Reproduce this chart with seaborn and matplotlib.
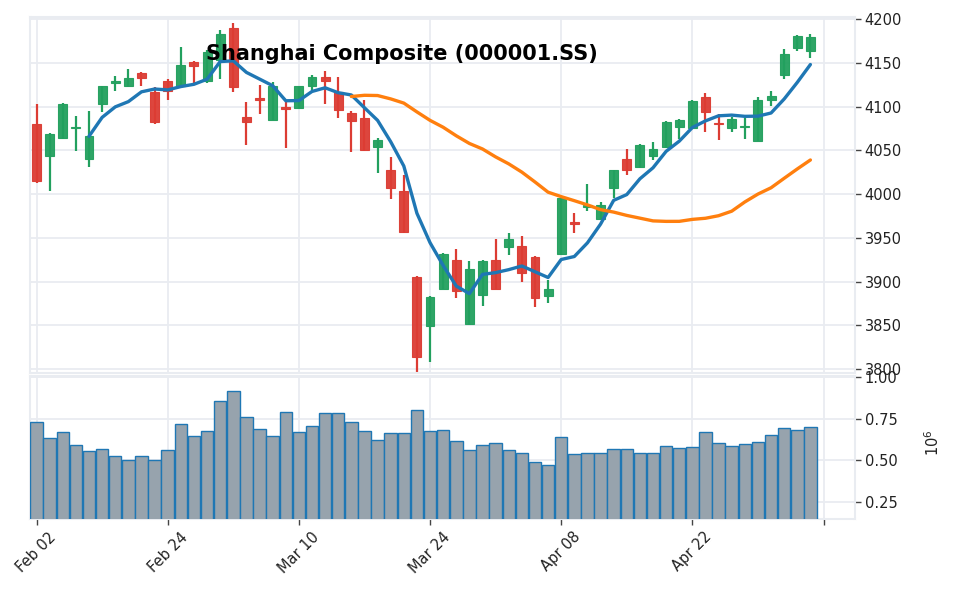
import numpy as np
import pandas as pd
import matplotlib
matplotlib.use('Agg')
import matplotlib.pyplot as plt
import seaborn as sns

# daily OHLC (index = trading day)
opens = [4080, 4044, 4064, 4075, 4040, 4103, 4127, 4124, 4138, 4117,
         4129, 4123, 4151, 4129, 4153, 4190, 4088, 4110, 4085, 4100,
         4098, 4124, 4134, 4117, 4093, 4087, 4054, 4028, 4004, 3905,
         3849, 3892, 3925, 3851, 3885, 3925, 3940, 3941, 3928, 3884,
         3931, 3968, 3985, 3972, 4007, 4040, 4031, 4043, 4054, 4077,
         4075, 4111, 4081, 4075, 4077, 4061, 4107, 4136, 4167, 4163]
highs = [4103, 4070, 4104, 4089, 4095, 4124, 4135, 4143, 4140, 4122,
         4131, 4168, 4152, 4165, 4188, 4196, 4105, 4125, 4128, 4105,
         4124, 4136, 4141, 4134, 4095, 4108, 4064, 4042, 4022, 3906,
         3883, 3933, 3937, 3924, 3925, 3949, 3956, 3952, 3929, 3902,
         3996, 3978, 4011, 3991, 4028, 4051, 4057, 4059, 4083, 4086,
         4107, 4115, 4092, 4088, 4087, 4111, 4118, 4166, 4182, 4183]
lows = [4013, 4003, 4063, 4049, 4031, 4094, 4118, 4122, 4124, 4080,
        4107, 4122, 4127, 4127, 4132, 4117, 4056, 4091, 4085, 4053,
        4097, 4119, 4103, 4087, 4048, 4049, 4024, 3994, 3956, 3795,
        3808, 3891, 3881, 3850, 3872, 3891, 3930, 3900, 3871, 3876,
        3930, 3955, 3981, 3971, 3995, 4022, 4030, 4039, 4053, 4063,
        4074, 4071, 4062, 4071, 4063, 4061, 4101, 4131, 4164, 4155]
closes = [4015, 4069, 4103, 4077, 4066, 4123, 4129, 4133, 4133, 4082,
          4118, 4148, 4146, 4162, 4183, 4122, 4082, 4108, 4124, 4097,
          4123, 4134, 4129, 4096, 4084, 4050, 4062, 4007, 3957, 3814,
          3882, 3932, 3889, 3914, 3924, 3892, 3949, 3910, 3881, 3891,
          3995, 3966, 3988, 3988, 4027, 4028, 4056, 4051, 4082, 4085,
          4106, 4094, 4080, 4086, 4078, 4107, 4112, 4160, 4181, 4180]
# volume in millions
volumes = [0.733, 0.637, 0.673, 0.595, 0.558, 0.570, 0.528, 0.504, 0.528, 0.504,
           0.564, 0.721, 0.649, 0.679, 0.860, 0.920, 0.763, 0.691, 0.649, 0.793,
           0.673, 0.709, 0.787, 0.787, 0.733, 0.679, 0.625, 0.667, 0.667, 0.805,
           0.679, 0.685, 0.620, 0.564, 0.595, 0.608, 0.564, 0.546, 0.492, 0.474,
           0.643, 0.540, 0.546, 0.546, 0.570, 0.570, 0.546, 0.546, 0.589, 0.576,
           0.582, 0.673, 0.606, 0.589, 0.600, 0.613, 0.655, 0.695, 0.685, 0.699]

tick_pos = [0, 10, 20, 30, 40, 50, 60]
tick_labels = ['Feb 02', 'Feb 24', 'Mar 10', 'Mar 24', 'Apr 08', 'Apr 22', '']
mav = (5, 25)

df = pd.DataFrame({'Open': opens, 'High': highs, 'Low': lows,
                   'Close': closes, 'Volume': volumes})
df['i'] = np.arange(len(df))
for w in mav:
    df['ma%d' % w] = df['Close'].rolling(w).mean()

sns.set_style('white')
plt.rcParams['font.family'] = ['DejaVu Sans']

grid_c = '#e9ecf1'
up_c = '#22a05e'
down_c = '#dc3c33'

fig = plt.figure(figsize=(9.57, 5.92), dpi=100)
W, H = 957, 592
ax = fig.add_axes([30 / W, (H - 373) / H, 825 / W, 356 / H])
axv = fig.add_axes([30 / W, (H - 519) / H, 825 / W, 143 / H], sharex=ax)

up = df['Close'] >= df['Open']
colors = np.where(up, up_c, down_c)

# wicks
ax.vlines(df['i'], df['Low'], df['High'], colors=colors, linewidth=1.6, zorder=2)
# bodies
body_low = np.minimum(df['Open'], df['Close'])
body_h = np.maximum((df['Close'] - df['Open']).abs(), 0.8)
ax.bar(df['i'], body_h, bottom=body_low, width=0.68, color=colors,
       edgecolor=colors, linewidth=0.8, alpha=0.95, zorder=3)

# moving averages
sns.lineplot(data=df, x='i', y='ma5', ax=ax, color='#1f77b4', linewidth=2.4, zorder=4)
sns.lineplot(data=df, x='i', y='ma25', ax=ax, color='#ff7f0e', linewidth=2.4, zorder=4)

# volume
axv.bar(df['i'], df['Volume'], width=0.95, color='#97a3ad',
        edgecolor='#1f77b4', linewidth=1.0, zorder=3)

ax.set_xlim(-0.5, 62.4)
ax.set_ylim(3795.5, 4202.3)
axv.set_ylim(0.148, 1.008)

for a in (ax, axv):
    a.set_xlabel('')
    a.set_ylabel('')
    a.yaxis.tick_right()
    a.grid(True, color=grid_c, linewidth=1.3, zorder=0)
    a.set_axisbelow(True)
    for s in a.spines.values():
        s.set_color(grid_c)
        s.set_linewidth(1.5)
    a.tick_params(axis='y', which='major', length=4, width=1, color='#444444',
                  labelsize=10.5, labelcolor='#222222', pad=3, right=True, left=False)

ax.set_yticks([3800, 3850, 3900, 3950, 4000, 4050, 4100, 4150, 4200])
ax.set_yticklabels([str(v) for v in [3800, 3850, 3900, 3950, 4000, 4050, 4100, 4150, 4200]])
axv.set_yticks([0.25, 0.50, 0.75, 1.00])
axv.set_yticklabels(['0.25', '0.50', '0.75', '1.00'])

axv.set_xticks(tick_pos)
axv.set_xticklabels(tick_labels, rotation=45, ha='center')
axv.tick_params(axis='x', length=4, width=1, color='#444444', labelsize=10.5,
                labelcolor='#222222', bottom=True)
ax.tick_params(axis='x', bottom=False, labelbottom=False)

fig.text(933 / W, 1 - 443 / H, r'$10^6$', rotation=90, ha='center', va='center',
         fontsize=10.5, color='#222222')
fig.text(402 / W, 1 - 54 / H, 'Shanghai Composite (000001.SS)', ha='center',
         va='center', fontsize=15, fontweight='bold', color='black')

fig.savefig('out.png', dpi=100)
